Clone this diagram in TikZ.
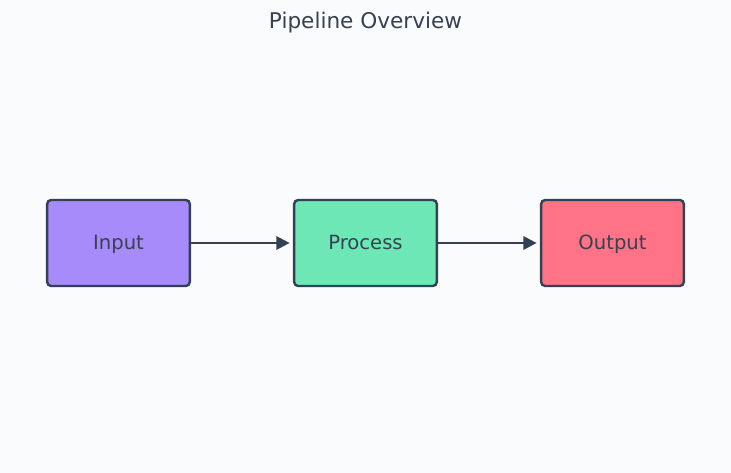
\documentclass[tikz,border=0pt]{standalone}
\usepackage{fontspec}
\setmainfont{DejaVu Sans}
\usetikzlibrary{arrows.meta}
\definecolor{bg}{HTML}{FAFBFD}
\definecolor{stroke}{HTML}{334155}
\definecolor{txt}{HTML}{374151}
\definecolor{cin}{HTML}{A78BFA}
\definecolor{cproc}{HTML}{6EE7B7}
\definecolor{cout}{HTML}{FF7386}
\tikzset{
  box/.style={draw=stroke, line width=1.8pt, rounded corners=3pt, minimum width=107pt, minimum height=64.5pt, inner sep=0pt, text=txt, font=\fontsize{14.7}{16}\selectfont, text height=0.98em, text depth=0.0em},
  conn/.style={draw=stroke, line width=1.8pt, shorten >=2.5pt, -{Triangle[length=10pt,width=10pt]}}
}
\begin{document}
\begin{tikzpicture}[x=0.75pt,y=-0.75pt]
\fill[bg] (0,0) rectangle (731,473);
\useasboundingbox (0,0) rectangle (731,473);
\node[text=txt, font=\fontsize{16.2}{18}\selectfont] (title) at (365.5,23) {Pipeline Overview};
\node[box, fill=cin] (in) at (118.5,243) {Input};
\node[box, fill=cproc] (proc) at (365.5,243) {Process};
\node[box, fill=cout] (out) at (612.5,243) {Output};
\draw[conn] (in) -- (proc);
\draw[conn] (proc) -- (out);
\end{tikzpicture}
\end{document}
